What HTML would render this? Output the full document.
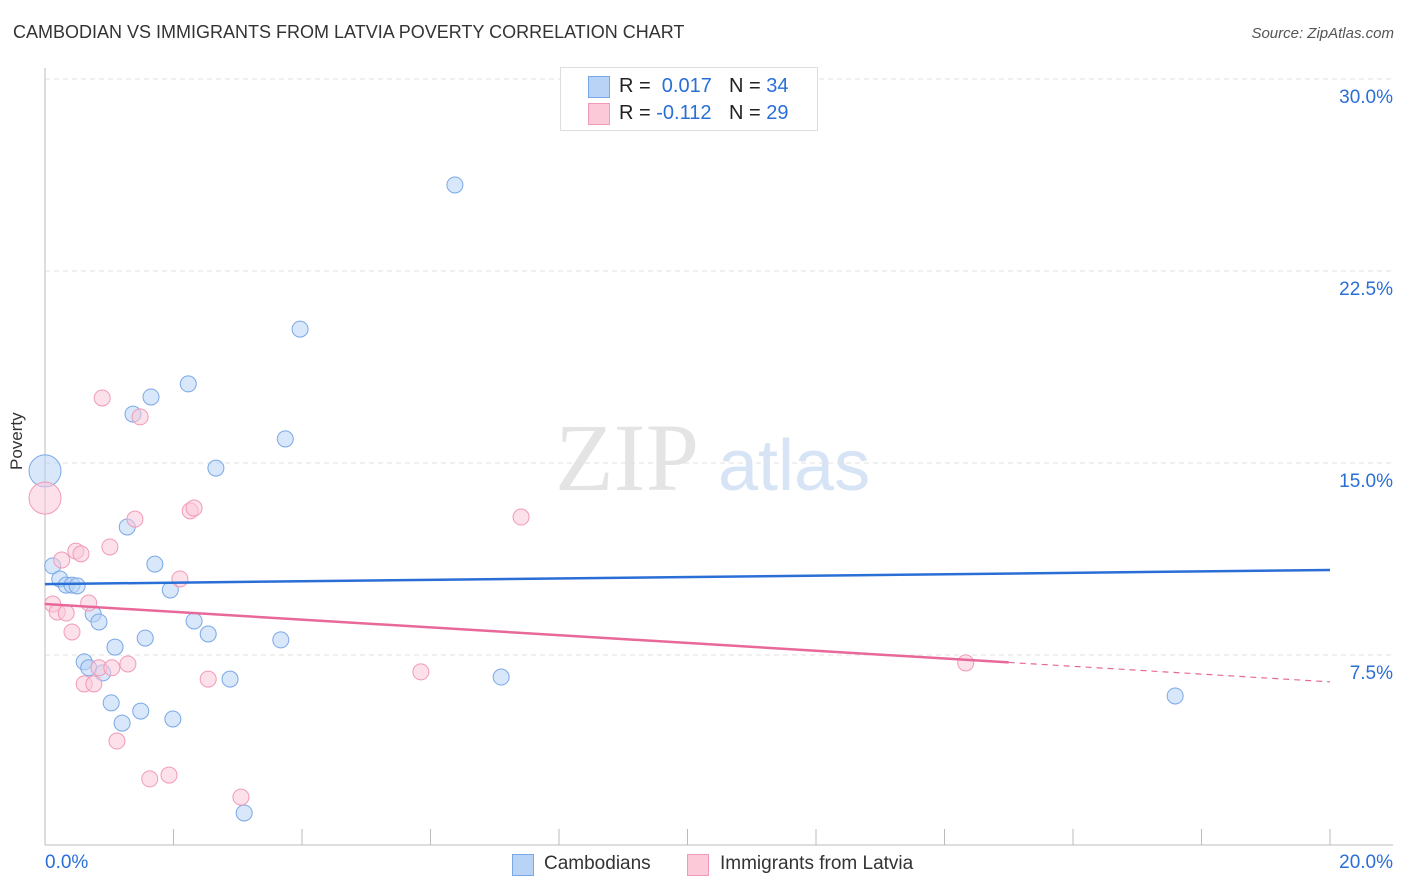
<!DOCTYPE html>
<html><head><meta charset="utf-8">
<style>
body{margin:0;width:1406px;height:892px;background:#fff;font-family:"Liberation Sans",sans-serif;overflow:hidden;position:relative}
.t{position:absolute;white-space:nowrap}
</style></head><body>
<div class="t" style="left:13px;top:22px;font-size:18px;color:#333">CAMBODIAN VS IMMIGRANTS FROM LATVIA POVERTY CORRELATION CHART</div>
<div class="t" style="right:12px;top:25px;font-size:15px;color:#555;font-style:italic">Source: ZipAtlas.com</div>
<div class="t" style="left:7px;top:470px;font-size:17px;color:#333;transform:rotate(-90deg);transform-origin:left top">Poverty</div>
<svg id="c" width="1406" height="892" style="position:absolute;left:0;top:0"></svg>
<div style="position:absolute;left:560px;top:67px;width:256px;height:62px;border:1px solid #ddd;background:#fff">
 <div style="position:absolute;left:27px;top:8px;width:20px;height:20px;background:#b8d3f5;border:1px solid #7aa8e6"></div>
 <div class="t" style="left:58px;top:7px;font-size:20px;color:#222">R = &nbsp;<span style="color:#2a6fd6">0.017</span></div>
 <div class="t" style="left:168px;top:7px;font-size:20px;color:#222">N = <span style="color:#2a6fd6">34</span></div>
 <div style="position:absolute;left:27px;top:35px;width:20px;height:20px;background:#fbc9d8;border:1px solid #f19ab7"></div>
 <div class="t" style="left:58px;top:34px;font-size:20px;color:#222">R = <span style="color:#2a6fd6">-0.112</span></div>
 <div class="t" style="left:168px;top:34px;font-size:20px;color:#222">N = <span style="color:#2a6fd6">29</span></div>
</div>
<div style="position:absolute;left:512px;top:852px;height:24px">
 <div style="position:absolute;left:0;top:2px;width:20px;height:20px;background:#b8d3f5;border:1px solid #7aa8e6"></div>
 <div class="t" style="left:32px;top:1px;font-size:19px;color:#333">Cambodians</div>
 <div style="position:absolute;left:175px;top:2px;width:20px;height:20px;background:#fbc9d8;border:1px solid #f19ab7"></div>
 <div class="t" style="left:208px;top:1px;font-size:19px;color:#333">Immigrants from Latvia</div>
</div>
<div class="t" style="left:45px;top:852px;font-size:19px;color:#2a6fd6">0.0%</div>
<div class="t" style="right:13px;top:852px;font-size:19px;color:#2a6fd6">20.0%</div>
<script>
const yTicks=[7.5,15,22.5,30];
const yTickLabels=["7.5%","15.0%","22.5%","30.0%"];
const blueX=[0,0.12,0.23,0.33,0.42,0.5,0.75,0.84,0.61,0.68,0.9,1.09,1.03,1.2,1.28,1.37,1.65,1.49,1.56,1.71,1.95,1.99,2.23,2.32,2.54,2.66,2.88,3.1,3.67,3.74,3.97,6.38,7.1,17.59];
const blueY=[14.69,10.98,10.47,10.23,10.23,10.2,9.1,8.79,7.23,7.0,6.8,7.81,5.63,4.84,12.5,16.91,17.58,5.31,8.16,11.05,10.04,5.0,18.09,8.83,8.32,14.8,6.56,1.33,8.09,15.94,20.23,25.86,6.64,5.9];
const pinkX=[0,0.12,0.19,0.26,0.33,0.42,0.48,0.56,0.61,0.68,0.76,0.84,0.89,1.01,1.04,1.12,1.29,1.4,1.48,1.63,1.93,2.1,2.26,2.32,2.54,3.05,5.85,7.41,14.33];
const pinkY=[13.63,9.49,9.18,11.21,9.14,8.4,11.56,11.45,6.37,9.53,6.37,7.0,17.54,11.72,7.0,4.14,7.15,12.81,16.8,2.66,2.81,10.47,13.13,13.24,6.56,1.95,6.84,12.89,7.19];
const blueTrend=[10.27,10.82];
const pinkTrend=[9.49,6.45];
const X=v=>45+v*64.25, Y=v=>79+(30-v)*25.6;
const s=document.getElementById('c');const NS='http://www.w3.org/2000/svg';
function mk(t,a){const e=document.createElementNS(NS,t);for(const k in a)e.setAttribute(k,a[k]);s.appendChild(e);return e;}
// watermark
let w=mk('text',{x:555,y:490,'font-size':96,fill:'#e4e4e4','font-family':'Liberation Serif, serif'});w.textContent='ZIP';


let w2=mk('text',{x:718,y:490,'font-size':72,fill:'#d6e4f6','font-family':'Liberation Sans, sans-serif'});w2.textContent='atlas';


yTicks.forEach((v,i)=>{
 const g=mk('line',{x1:45,x2:1393,y1:Y(v),y2:Y(v),stroke:'#e2e2e2','stroke-dasharray':'5,4'});
 
 
 const t=mk('text',{x:1393,y:Y(v)+24,'text-anchor':'end','font-size':19,fill:'#2a6fd6','font-family':'Liberation Sans, sans-serif'});t.textContent=yTickLabels[i];
 
 
});
let ax=mk('line',{x1:45,x2:45,y1:68,y2:845,stroke:'#bbb'});


let bx=mk('line',{x1:45,x2:1393,y1:845,y2:845,stroke:'#bbb'});


for(let i=0;i<=10;i++){const tk=mk('line',{x1:X(i*2),x2:X(i*2),y1:829,y2:845,stroke:'#bbb'});
 
 }
function pts(xs,ys,fill,stroke,name){xs.forEach((x,i)=>{const r=(i==0)?16:8;
 const c=mk('circle',{cx:X(x),cy:Y(ys[i]),r:r,fill:fill,'fill-opacity':0.55,stroke:stroke,'stroke-width':1});
 
 });}
pts(blueX,blueY,'#b8d3f5','#7aa8e6','point-cambodians');
pts(pinkX,pinkY,'#fbc9d8','#f19ab7','point-latvia');
let bl=mk('line',{x1:X(0),y1:Y(blueTrend[0]),x2:X(20),y2:Y(blueTrend[1]),stroke:'#2a6fd6','stroke-width':2.5});


const pm=pinkTrend[0]+(pinkTrend[1]-pinkTrend[0])*0.75;
let pl=mk('line',{x1:X(0),y1:Y(pinkTrend[0]),x2:X(15),y2:Y(pm),stroke:'#e8689a','stroke-width':2.5});


let pd=mk('line',{x1:X(15),y1:Y(pm),x2:X(20),y2:Y(pinkTrend[1]),stroke:'#e8689a','stroke-width':1.2,'stroke-dasharray':'6,5'});


</script>
</body></html>
